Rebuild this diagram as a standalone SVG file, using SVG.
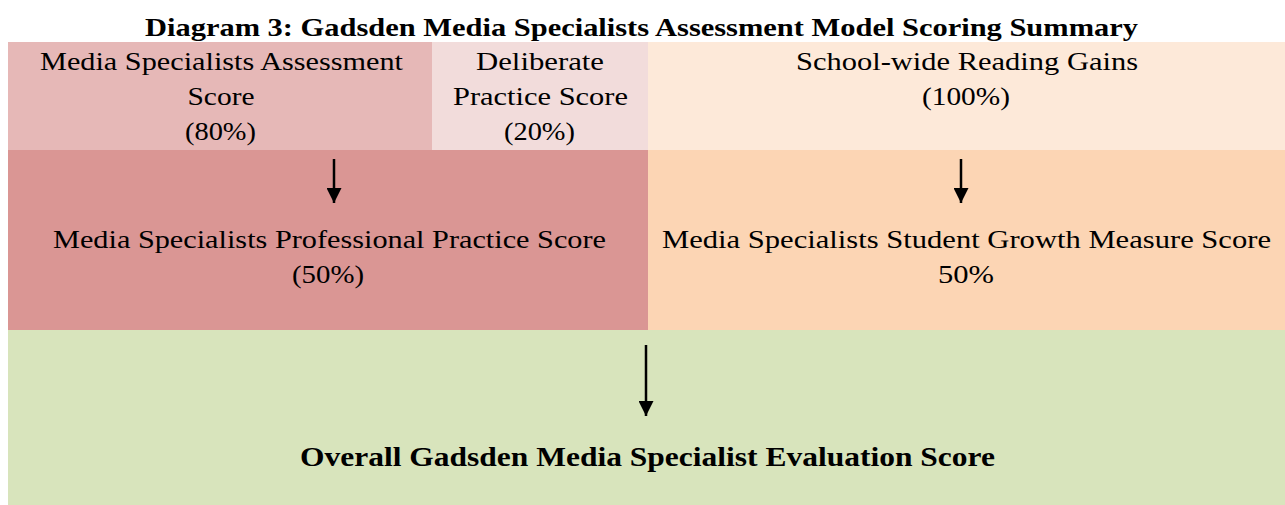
<svg xmlns="http://www.w3.org/2000/svg" width="1285" height="505" viewBox="0 0 1285 505">
<style>
.t{font-family:"Liberation Serif","DejaVu Serif",serif;font-size:26px;fill:#000;text-anchor:middle}
.title{font-family:"Liberation Serif","DejaVu Serif",serif;font-size:26px;font-weight:bold;fill:#000;text-anchor:middle}
.b{font-family:"Liberation Serif","DejaVu Serif",serif;font-size:28px;font-weight:bold;fill:#000;text-anchor:middle}
.arr{stroke:#000;stroke-width:2.5;fill:none}
</style>
<defs>
<marker id="ah" viewBox="0 0 10 10" refX="10" refY="5" markerWidth="6" markerHeight="6" markerUnits="strokeWidth" orient="auto">
<path d="M0,0 L10,5 L0,10 z" fill="#000"/>
</marker>
</defs>
<rect width="1285" height="505" fill="#fff"/>
<text class="title" x="641.5" y="36" textLength="993" lengthAdjust="spacingAndGlyphs">Diagram 3: Gadsden Media Specialists Assessment Model Scoring Summary</text>
<g id="assessment">
<rect x="8" y="42" width="424" height="108" fill="#E6B8B7"/>
<text class="t" x="221.5" y="70" textLength="363" lengthAdjust="spacingAndGlyphs">Media Specialists Assessment</text>
<text class="t" x="221" y="105" textLength="67" lengthAdjust="spacingAndGlyphs">Score</text>
<text class="t" x="220.5" y="140" textLength="71" lengthAdjust="spacingAndGlyphs">(80%)</text>
</g>
<g id="deliberate">
<rect x="432" y="42" width="216" height="108" fill="#F2DCDB"/>
<text class="t" x="540" y="70" textLength="128" lengthAdjust="spacingAndGlyphs">Deliberate</text>
<text class="t" x="540.5" y="105" textLength="175" lengthAdjust="spacingAndGlyphs">Practice Score</text>
<text class="t" x="539.5" y="140" textLength="71" lengthAdjust="spacingAndGlyphs">(20%)</text>
</g>
<g id="reading">
<rect x="648" y="42" width="637" height="108" fill="#FDE9D9"/>
<text class="t" x="967" y="70" textLength="342" lengthAdjust="spacingAndGlyphs">School-wide Reading Gains</text>
<text class="t" x="966" y="105" textLength="88" lengthAdjust="spacingAndGlyphs">(100%)</text>
</g>
<g id="professional">
<rect x="8" y="150" width="640" height="180" fill="#DA9694"/>
<text class="t" x="329.5" y="248" textLength="553" lengthAdjust="spacingAndGlyphs">Media Specialists Professional Practice Score</text>
<text class="t" x="328" y="283" textLength="72" lengthAdjust="spacingAndGlyphs">(50%)</text>
</g>
<g id="growth">
<rect x="648" y="150" width="637" height="180" fill="#FCD5B4"/>
<text class="t" x="966.5" y="248" textLength="609" lengthAdjust="spacingAndGlyphs">Media Specialists Student Growth Measure Score</text>
<text class="t" x="966" y="283" textLength="56" lengthAdjust="spacingAndGlyphs">50%</text>
</g>
<g id="overall">
<rect x="8" y="330" width="1277" height="175" fill="#D8E4BC"/>
<text class="b" x="647.5" y="466" textLength="695" lengthAdjust="spacingAndGlyphs">Overall Gadsden Media Specialist Evaluation Score</text>
</g>
<g id="connectors">
<line class="arr" x1="334" y1="159" x2="334" y2="203" marker-end="url(#ah)"/>
<line class="arr" x1="961" y1="159" x2="961" y2="203" marker-end="url(#ah)"/>
<line class="arr" x1="646" y1="345" x2="646" y2="416" marker-end="url(#ah)"/>
</g>
</svg>
